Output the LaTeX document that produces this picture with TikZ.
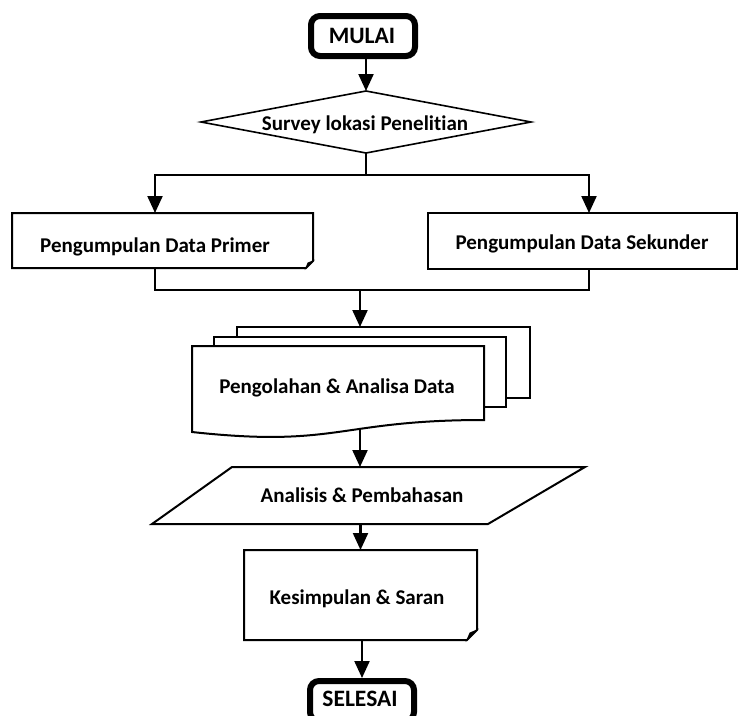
\documentclass[tikz,border=0pt]{standalone}
\usepackage{fontspec}
\setmainfont{Carlito}[Ligatures=NoCommon]
\usetikzlibrary{arrows.meta,calc}
\begin{document}
\begin{tikzpicture}[x=1pt,y=-1pt,
  lbl/.style={font=\fontsize{21}{25}\selectfont\bfseries, anchor=base, inner sep=0},
  biglbl/.style={lbl, font=\fontsize{23.5}{28}\selectfont\bfseries},
  frame/.style={draw=none, inner sep=0, outer sep=0},
  boxline/.style={line width=2pt, line join=miter},
  conn/.style={line width=2.2pt},
  arr/.style={conn, -{Triangle[length=17pt,width=15pt]}},
  term/.style={draw, line width=6pt, rounded corners=9pt, inner sep=0,
    minimum width=104pt, minimum height=40pt, fill=white}
]
\useasboundingbox (0,0) rectangle (739,715);
\clip (0,0) rectangle (739,715);

% start terminal
\node[term] (mulai) at (363,36) {};
\node[biglbl] (mulaiT) at (362,43.5) {MULAI};

% decision
\node[frame, minimum width=330pt, minimum height=62pt] (survey) at (366,122) {};
\draw[line width=1.6pt, fill=white] (survey.north) -- (survey.east) -- (survey.south) -- (survey.west) -- cycle;
\node[lbl] (surveyT) at (365,130.8) {Survey lokasi Penelitian};
\draw[arr] (survey.north |- mulai.south) -- (survey.north);

% two data collection boxes
\node[frame, minimum width=301pt, minimum height=55pt] (primer) at (162.5,240.5) {};
\draw[boxline, fill=white] (primer.north west) -- (primer.north east) -- ([yshift=7pt]primer.south east)
  -- ([xshift=-7pt]primer.south east) -- (primer.south west) -- cycle;
\draw[line width=1pt, fill=black] ([xshift=-7pt]primer.south east) -- ([xshift=-5pt,yshift=5pt]primer.south east)
  -- ([yshift=7pt]primer.south east) -- cycle;
\node[lbl] (primerT) at (155,252.8) {Pengumpulan Data Primer};

\node[frame, minimum width=309pt, minimum height=56pt] (sekunder) at (582.5,241) {};
\draw[boxline, fill=white] (sekunder.north west) rectangle (sekunder.south east);
\node[lbl] (sekunderT) at (582,249.8) {Pengumpulan Data Sekunder};

% split after the survey
\coordinate (split) at (366,175);
\coordinate (sl) at (155,175);
\coordinate (sr) at (589,175);
\draw[conn] (survey.south) -- (split);
\draw[conn, line cap=rect] (sl) -- (sr);
\draw[arr] (sl) -- (sl |- primer.north);
\draw[arr] (sr) -- (sr |- sekunder.north);

% join below the collection boxes
\coordinate (jl) at (155,290);
\coordinate (jr) at (589,290);
\coordinate (jm) at (360,290);
\draw[conn, line join=miter] (primer.south -| jl) -- (jl) -- (jr) -- (sekunder.south -| jr);

% multi-document stack
\node[frame, minimum width=293pt, minimum height=71pt] (sheetB) at (383.5,362.5) {};
\node[frame, minimum width=292pt, minimum height=70pt] (sheetM) at (360,372) {};
\node[frame, minimum width=292pt, minimum height=86pt] (doc) at (338,389) {};
\draw[boxline] (sheetB.south -| sheetM.east) -- (sheetB.south east) -- (sheetB.north east)
  -- (sheetB.north west) -- (sheetB.west |- sheetM.north);
\draw[boxline] (sheetM.south -| doc.east) -- (sheetM.south east) -- (sheetM.north east)
  -- (sheetM.north west) -- (sheetM.west |- doc.north);
\draw[boxline, fill=white] (doc.north west) -- (doc.north east) -- (484,420)
  .. controls (338,420) and (338,448) .. (doc.south west) -- cycle;
\node[lbl] (docT) at (337,393.8) {Pengolahan \& Analisa Data};
\draw[arr] (jm) -- (jm |- sheetB.north);

% data (parallelogram)
\coordinate (docb) at (360,430);
\node[frame, minimum width=433pt, minimum height=57pt] (para) at (368.5,495.5) {};
\draw[boxline, fill=white] (para.south west) -- ([xshift=-97pt]para.south east) -- (para.north east)
  -- ([xshift=80pt]para.north west) -- cycle;
\node[lbl] (paraT) at (362,502.8) {Analisis \& Pembahasan};
\draw[arr] (docb) -- (docb |- para.north);

% conclusion box
\node[frame, minimum width=233pt, minimum height=90pt] (kes) at (360.5,595) {};
\draw[boxline, fill=white] (kes.north west) -- (kes.north east) -- ([yshift=10pt]kes.south east)
  -- ([xshift=-10pt]kes.south east) -- (kes.south west) -- cycle;
\draw[line width=1pt, fill=black] ([xshift=-10pt]kes.south east) -- ([xshift=-7pt,yshift=7pt]kes.south east)
  -- ([yshift=10pt]kes.south east) -- cycle;
\node[lbl] (kesT) at (357,604.8) {Kesimpulan \& Saran};
\draw[arr] (kes.north |- para.south) -- (kes.north);

% end terminal
\node[term] (selesai) at (362,701) {};
\node[biglbl] (selesaiT) at (360,706.5) {SELESAI};
\draw[arr] (selesai.north |- kes.south) -- (selesai.north);
\end{tikzpicture}
\end{document}
